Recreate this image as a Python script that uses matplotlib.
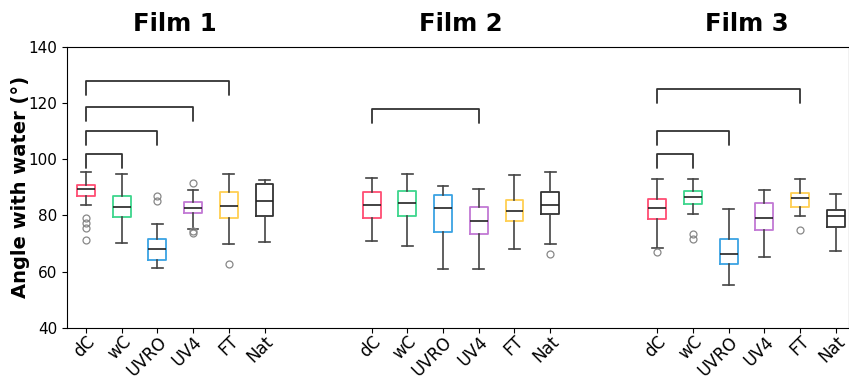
import matplotlib
matplotlib.use("Agg")
import matplotlib.pyplot as plt
import matplotlib.transforms as mtransforms

# Box statistics (contact angle, degrees)
films = ["Film 1", "Film 2", "Film 3"]
labels = ["dC", "wC", "UVRO", "UV4", "FT", "Nat"]
colors = ["#ff4d73", "#3dd68c", "#3aa3e3", "#c278d4", "#ffcf52", "#333333"]

whishi = [[95.6, 94.7, 76.8, 89.2, 94.6, 92.6],
          [93.4, 94.8, 90.5, 89.5, 94.3, 95.6],
          [92.9, 92.9, 82.2, 89.1, 93.0, 87.6]]
q3 = [[90.8, 87.0, 71.7, 84.8, 88.3, 91.1],
      [88.3, 88.8, 87.2, 83.2, 85.6, 88.3],
      [85.9, 88.8, 71.7, 84.6, 88.0, 82.1]]
med = [[89.6, 83.2, 68.0, 82.8, 83.4, 85.0],
       [83.7, 84.6, 82.5, 78.2, 81.5, 83.9],
       [82.6, 86.5, 66.3, 79.0, 86.2, 79.9]]
q1 = [[86.8, 79.5, 64.3, 80.9, 79.2, 79.9],
      [79.2, 79.9, 74.1, 73.5, 78.0, 80.7],
      [78.8, 84.1, 62.8, 74.8, 83.0, 75.9]]
whislo = [[83.9, 70.2, 61.4, 75.2, 69.9, 70.7],
          [70.9, 69.2, 61.1, 60.9, 68.0, 69.9],
          [68.6, 80.7, 55.3, 65.3, 79.8, 67.2]]
fliers = [[[79.2, 77.5, 75.5, 71.2], [], [86.9, 85.1], [91.5, 74.6, 73.8], [62.8], []],
          [[], [], [], [], [], [66.3]],
          [[67.0], [73.4, 71.6], [], [], [75.0], []]]

# significance brackets: (index of compared group vs dC, bracket height)
brackets = [[(1, 101.8), (2, 110.0), (3, 118.5), (4, 127.8)],
            [(3, 117.9)],
            [(1, 101.8), (2, 110.0), (4, 125.0)]]
drop = 5.0

fig = plt.figure(figsize=(8.49, 3.79), dpi=100)
ax = fig.add_axes([0.079, 0.135, 0.921, 0.741])

ticks, ticklabels = [], []
for g, film in enumerate(films):
    base = g * 8 + 1
    for i, lab in enumerate(labels):
        pos = base + i
        st = [dict(med=med[g][i], q1=q1[g][i], q3=q3[g][i],
                   whislo=whislo[g][i], whishi=whishi[g][i], fliers=fliers[g][i])]
        ax.bxp(st, positions=[pos], widths=0.5, capwidths=0.3, patch_artist=False,
               boxprops=dict(color=colors[i], linewidth=1.3),
               medianprops=dict(color="#222222", linewidth=1.2),
               whiskerprops=dict(color="#444444", linewidth=1.2),
               capprops=dict(color="#444444", linewidth=1.2),
               flierprops=dict(marker="o", markersize=5, markerfacecolor="none",
                               markeredgecolor="#888888", markeredgewidth=0.9))
        ticks.append(pos)
        ticklabels.append(lab)

    for j, h in brackets[g]:
        x1, x2 = base, base + j
        ax.plot([x1, x1, x2, x2], [h - drop, h, h, h - drop], color="#333333",
                lw=1.3, solid_joinstyle="round", solid_capstyle="round")

    ax.text(base + 2.5, 1.04, film, transform=ax.get_xaxis_transform(),
            ha="center", va="bottom", fontsize=17.5, fontweight="bold")

ax.set_xlim(0.47, 22.37)
ax.set_ylim(40, 140)
ax.set_yticks([40, 60, 80, 100, 120, 140])
ax.set_xticks(ticks)
ax.set_xticklabels(ticklabels, rotation=45, ha="right", rotation_mode="anchor", fontsize=12)
# nudge rotated labels to the right (and up a touch so nothing is clipped)
shift = mtransforms.ScaledTranslation(6 / 100, 2 / 100, fig.dpi_scale_trans)
for t in ax.get_xticklabels():
    t.set_transform(t.get_transform() + shift)
ax.tick_params(axis="x", pad=0)
ax.tick_params(axis="y", labelsize=11)
ax.set_ylabel("Angle with water (°)", fontsize=14, fontweight="bold")
ax.yaxis.set_label_coords(-0.048, 0.5)

fig.savefig("out.png", dpi=100)
